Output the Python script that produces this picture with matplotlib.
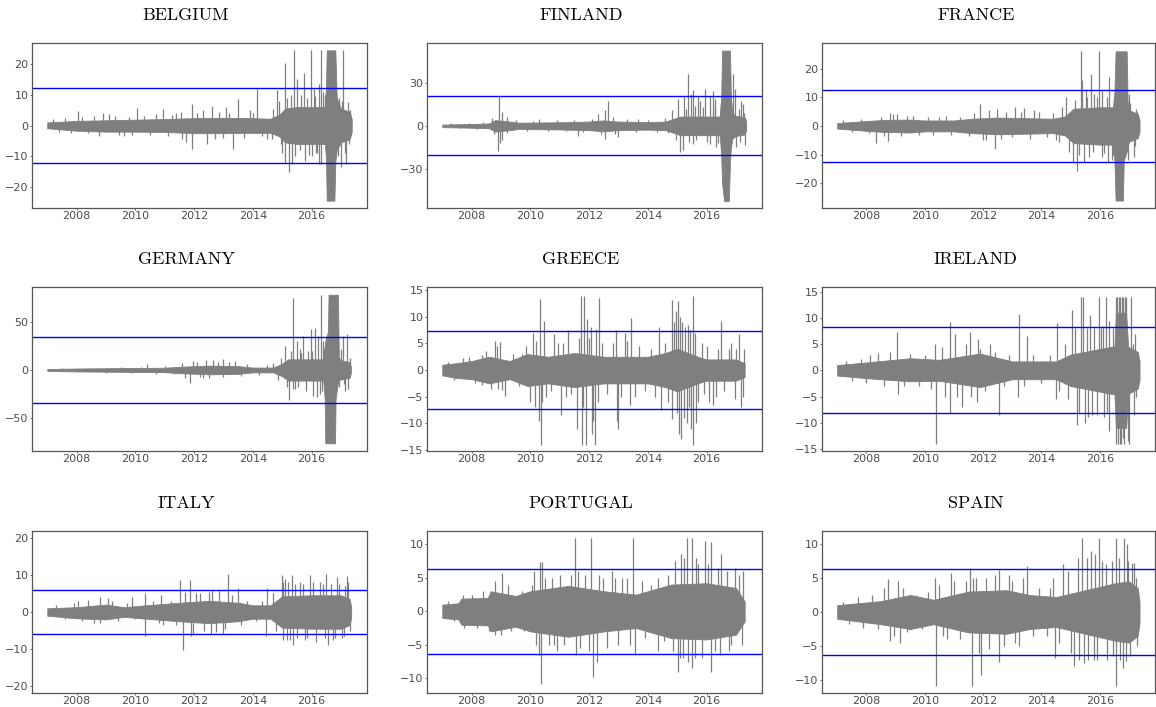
import matplotlib
matplotlib.use("Agg")
import matplotlib.pyplot as plt

# ---------------- data ----------------
# Each panel: core envelope (time, upper, lower), large spikes (time, value),
# smaller excursions (time, value), threshold level (blue lines at +/-).

BE_T  = [2007.0, 2008.0, 2009.0, 2010.0, 2011.0, 2012.0, 2013.0, 2014.0, 2014.6, 2014.9, 2015.1, 2015.5, 2016.0, 2016.45, 2016.49, 2016.52, 2016.78, 2016.81, 2016.86, 2017.0, 2017.3, 2017.37]
BE_HI = [1.0, 1.5, 1.7, 1.9, 2.1, 2.4, 2.5, 2.4, 2.2, 3.5, 5.5, 6.0, 6.0, 6.0, 12.0, 24.5, 24.5, 24.5, 9.0, 5.5, 4.5, 2.0]
BE_LO = [-0.9, -1.7, -2.0, -2.0, -2.1, -2.5, -2.5, -2.4, -2.4, -3.5, -5.5, -6.0, -6.0, -6.0, -10.0, -24.5, -24.5, -12.0, -8.0, -5.5, -4.5, -2.0]
BE_ST = [2008.05, 2008.9, 2009.1, 2009.6, 2010.07, 2010.94, 2011.4, 2011.73, 2011.92, 2011.94, 2012.45, 2012.6, 2013.1, 2013.31, 2013.5, 2013.9, 2014.16, 2014.5, 2014.84, 2014.95, 2015.09, 2015.09, 2015.24, 2015.3, 2015.35, 2015.39, 2015.52, 2015.6, 2015.73, 2015.77, 2015.85, 2015.98, 2016.03, 2016.09, 2016.15, 2016.26, 2016.26, 2016.33, 2016.34, 2016.4, 2016.95, 2017.0, 2017.08, 2017.17, 2017.23]
BE_SV = [4.8, 4.0, 3.8, -3.5, 5.8, 5.5, 4.0, -5.5, 7.0, -7.5, -6.0, 6.5, 6.0, -7.5, 8.5, 5.0, 11.8, -4.5, 11.5, -6.0, 20.5, -12.3, -15.0, 10.0, -12.5, 24.5, 15.0, -8.0, 17.0, -11.5, 9.0, 24.5, -10.0, 12.0, -9.0, 13.5, -12.5, 24.5, -12.5, 11.0, 9.0, -13.5, 24.5, -12.5, 7.5]
BE_MT = [2007.2, 2007.4, 2007.6, 2007.8, 2008.2, 2008.4, 2008.6, 2008.75, 2009.3, 2009.45, 2009.8, 2009.9, 2010.3, 2010.5, 2010.7, 2011.1, 2011.25, 2011.55, 2011.6, 2012.1, 2012.3, 2012.7, 2012.85, 2013.0, 2013.2, 2013.7, 2014.0, 2014.3, 2014.65, 2014.7, 2014.9, 2015.0, 2015.15, 2015.45, 2015.65, 2015.9, 2016.12, 2016.2, 2016.45, 2016.9, 2017.05, 2017.13, 2017.28, 2017.3]
BE_MV = [2.2, -2.0, 2.5, -2.5, 2.8, -2.6, 3.0, -3.5, 3.2, -3.0, 2.8, -3.2, 3.0, -3.0, 3.8, -3.5, 3.5, 4.5, -4.5, 4.0, 5.0, -4.5, 4.5, -4.0, 4.2, -4.0, 4.0, -3.5, -4.5, 5.5, 8.0, -9.0, 9.0, -10.0, 10.0, -9.5, 9.5, -9.0, 10.0, -10.0, 8.0, -9.0, -6.0, 5.0]
BE_LIM = 12.2

FI_T  = [2007.0, 2008.0, 2008.6, 2008.8, 2009.3, 2009.6, 2011.0, 2012.0, 2012.5, 2013.0, 2014.0, 2014.6, 2014.9, 2015.1, 2016.0, 2016.45, 2016.5, 2016.53, 2016.6, 2016.76, 2016.8, 2016.83, 2016.88, 2017.0, 2017.3, 2017.35]
FI_HI = [0.9, 1.3, 1.7, 4.0, 3.0, 2.2, 2.5, 3.0, 3.8, 3.0, 2.6, 3.0, 5.0, 6.5, 6.5, 6.5, 20.0, 52.5, 52.5, 52.5, 52.5, 20.0, 9.0, 7.0, 6.0, 3.0]
FI_LO = [-0.9, -1.3, -1.7, -4.0, -3.0, -2.2, -2.5, -3.0, -3.8, -3.0, -2.6, -3.0, -5.0, -6.5, -6.5, -6.5, -20.0, -40.0, -52.5, -52.5, -25.0, -15.0, -9.0, -7.0, -6.0, -3.0]
FI_ST = [2008.89, 2008.94, 2008.97, 2009.03, 2009.03, 2010.28, 2011.64, 2012.32, 2012.55, 2012.55, 2012.66, 2013.0, 2013.68, 2014.81, 2015.02, 2015.1, 2015.19, 2015.24, 2015.36, 2015.47, 2015.55, 2015.55, 2015.7, 2015.78, 2015.95, 2016.12, 2016.12, 2016.23, 2016.29, 2016.34, 2016.91, 2016.97, 2017.02, 2017.19, 2017.25, 2017.31]
FI_SV = [-17.6, 20.5, -12.0, 10.0, -10.0, 4.5, -7.0, 8.0, 11.0, -9.0, 17.0, -8.0, 5.0, 11.0, 19.0, -18.5, -17.0, 21.0, 36.5, 22.0, 25.0, -13.0, 21.0, 17.0, 26.0, 21.0, -13.0, 24.0, 19.0, -15.0, 36.0, 26.0, -15.0, 17.5, 15.0, -13.5]
FI_MT = [2007.3, 2007.6, 2007.9, 2008.2, 2008.4, 2008.7, 2008.75, 2009.2, 2009.22, 2009.5, 2009.9, 2010.1, 2010.6, 2010.9, 2011.2, 2011.5, 2011.8, 2012.1, 2012.4, 2012.8, 2012.9, 2013.3, 2013.6, 2014.0, 2014.3, 2014.6, 2014.7, 2014.95, 2015.3, 2015.4, 2015.6, 2015.65, 2015.88, 2016.0, 2016.3, 2016.4, 2016.48, 2017.1, 2017.15, 2017.28]
FI_MV = [1.8, -1.8, 2.2, -2.0, 2.5, 5.5, -6.0, 6.0, -5.0, 4.0, -3.5, 3.5, -3.5, 3.8, -3.8, 4.0, -4.5, 5.0, -5.5, 6.0, -6.0, 5.0, -4.5, 4.0, -4.0, 5.5, -5.0, -10.0, 12.0, -11.0, 14.0, -10.0, 13.0, -11.0, 14.0, -12.0, 15.0, 12.0, -11.0, 9.0]
FI_LIM = 20.5

FR_T  = [2007.0, 2008.0, 2008.6, 2009.5, 2010.0, 2011.0, 2011.6, 2012.5, 2013.5, 2014.4, 2014.8, 2015.1, 2016.0, 2016.45, 2016.5, 2016.54, 2016.79, 2016.82, 2016.92, 2016.95, 2017.0, 2017.3, 2017.36]
FR_HI = [1.0, 1.7, 2.1, 2.2, 1.9, 1.9, 2.5, 2.9, 2.7, 2.5, 3.3, 6.0, 6.5, 6.5, 12.0, 26.0, 26.0, 26.0, 26.0, 9.0, 5.5, 4.2, 2.0]
FR_LO = [-0.9, -1.7, -2.1, -2.3, -1.9, -1.9, -2.5, -2.9, -2.7, -2.5, -3.3, -6.0, -6.5, -6.5, -12.0, -26.0, -26.0, -12.0, -9.0, -7.0, -5.5, -4.2, -2.0]
FR_ST = [2008.33, 2008.75, 2008.8, 2009.04, 2009.6, 2010.74, 2011.88, 2011.98, 2012.42, 2012.48, 2013.1, 2013.41, 2013.75, 2014.49, 2014.83, 2015.09, 2015.23, 2015.37, 2015.4, 2015.46, 2015.51, 2015.63, 2015.71, 2015.8, 2015.97, 2016.08, 2016.08, 2016.28, 2016.31, 2016.42, 2016.97, 2016.99, 2017.16, 2017.28]
FR_SV = [-5.8, -5.2, 4.5, 4.2, 3.5, 3.5, 7.5, -5.0, -8.0, 6.0, 6.5, 6.3, 5.5, -5.0, 10.0, -12.5, -15.8, 26.0, 16.0, -12.5, 13.0, -11.0, 18.0, 11.0, 26.0, 12.0, -11.0, -13.0, 17.0, -12.0, -12.0, 11.0, -11.0, 5.0]
FR_MT = [2007.2, 2007.5, 2007.8, 2008.1, 2008.5, 2008.6, 2008.9, 2009.2, 2009.4, 2009.8, 2010.1, 2010.3, 2010.5, 2010.9, 2011.2, 2011.5, 2011.7, 2012.1, 2012.2, 2012.6, 2012.8, 2013.0, 2013.3, 2013.6, 2013.9, 2014.2, 2014.4, 2014.6, 2014.7, 2014.95, 2015.15, 2015.3, 2015.55, 2015.75, 2015.9, 2016.15, 2016.25, 2016.45, 2016.88, 2017.05, 2017.2, 2017.25]
FR_MV = [2.0, -2.0, 2.5, -2.5, 3.0, -3.5, 4.0, -3.5, 3.5, -3.0, 3.0, -3.0, 3.2, -3.0, 3.0, -3.5, 4.5, -5.0, 5.5, -4.5, 5.0, -4.0, 5.0, -4.5, 5.0, -4.0, 4.5, -5.5, 6.5, -9.0, 9.0, -10.0, 10.0, -9.0, 10.0, -9.5, 10.0, -10.0, -9.0, 8.0, -7.0, 6.0]
FR_LIM = 12.4

DE_T  = [2007.0, 2008.0, 2009.0, 2010.0, 2011.0, 2011.5, 2012.5, 2013.5, 2014.0, 2014.7, 2015.0, 2015.2, 2016.0, 2016.4, 2016.45, 2016.47, 2016.56, 2016.58, 2016.8, 2016.82, 2016.9, 2016.93, 2017.0, 2017.3, 2017.34]
DE_HI = [1.0, 1.5, 1.8, 2.1, 2.3, 3.3, 4.5, 4.0, 2.5, 2.5, 6.5, 11.0, 11.0, 11.0, 25.0, 30.0, 40.0, 78.0, 78.0, 78.0, 78.0, 13.0, 10.0, 8.0, 3.0]
DE_LO = [-1.0, -1.5, -1.8, -2.1, -2.3, -3.3, -4.5, -4.0, -2.5, -2.5, -6.5, -11.0, -11.0, -11.0, -30.0, -76.0, -76.0, -76.0, -76.0, -30.0, -13.0, -10.0, -10.0, -8.0, -3.0]
DE_ST = [2010.38, 2011.86, 2011.97, 2012.31, 2012.42, 2012.65, 2012.99, 2013.39, 2014.7, 2015.09, 2015.24, 2015.36, 2015.38, 2015.51, 2015.61, 2015.72, 2015.89, 2015.97, 2016.06, 2016.12, 2016.17, 2016.23, 2016.29, 2016.32, 2016.38, 2017.08, 2017.14, 2017.2, 2017.25]
DE_SV = [6.0, -14.0, 9.0, -8.0, 10.0, 10.0, 11.0, 9.0, 7.0, 25.0, -31.0, 75.0, -20.0, 30.0, 22.0, 35.0, 20.0, 42.0, -27.0, 44.0, -28.0, 35.0, -25.0, 78.0, 30.0, 35.0, -22.0, 37.0, -20.0]
DE_MT = [2007.5, 2008.0, 2008.5, 2009.0, 2009.5, 2009.9, 2010.2, 2010.7, 2011.0, 2011.3, 2011.6, 2011.7, 2012.1, 2012.2, 2012.5, 2012.8, 2013.0, 2013.2, 2013.6, 2013.8, 2014.2, 2014.5, 2014.85, 2014.95, 2015.15, 2015.3, 2015.45, 2015.55, 2015.65, 2015.8, 2016.0, 2016.35, 2016.42, 2016.95, 2017.0, 2017.1, 2017.3]
DE_MV = [2.0, -2.5, 2.5, -3.0, 3.5, -3.5, 3.5, -4.0, 4.5, -4.5, 7.0, -8.0, 8.0, -7.0, -8.0, 8.0, -7.0, 8.0, -6.0, 6.0, -5.0, 5.0, -10.0, 12.0, -18.0, 20.0, -20.0, -18.0, 18.0, -22.0, 20.0, -22.0, 22.0, -18.0, 22.0, -15.0, 12.0]
DE_LIM = 34.5

GR_T  = [2007.0, 2007.5, 2008.0, 2008.6, 2009.3, 2009.9, 2010.6, 2011.5, 2012.5, 2013.0, 2014.0, 2014.6, 2015.0, 2015.7, 2016.0, 2017.0, 2017.3]
GR_HI = [1.0, 1.3, 1.7, 2.5, 1.7, 3.0, 2.5, 3.2, 2.5, 2.5, 2.5, 3.2, 4.0, 2.5, 2.0, 2.0, 1.3]
GR_LO = [-1.0, -1.5, -1.7, -2.5, -1.7, -3.0, -2.5, -3.2, -2.5, -2.5, -2.5, -3.2, -4.0, -2.5, -2.0, -2.0, -1.3]
GR_ST = [2007.9, 2008.35, 2008.35, 2008.8, 2008.97, 2008.9, 2009.14, 2009.71, 2010.0, 2010.09, 2010.16, 2010.3, 2010.33, 2010.36, 2010.45, 2010.79, 2011.04, 2011.28, 2011.58, 2011.72, 2011.75, 2011.84, 2011.89, 2011.92, 2012.07, 2012.09, 2012.15, 2012.21, 2012.23, 2012.35, 2012.92, 2012.94, 2012.98, 2013.23, 2013.4, 2013.43, 2014.38, 2014.45, 2014.81, 2014.84, 2014.95, 2015.02, 2015.06, 2015.1, 2015.12, 2015.27, 2015.32, 2015.36, 2015.44, 2015.47, 2015.53, 2015.55, 2015.64, 2015.83, 2016.09, 2016.23, 2016.34, 2016.51, 2016.85, 2016.97, 2017.1, 2017.17]
GR_SV = [2.5, 2.8, -2.8, 5.5, 5.3, -3.5, -4.8, 3.0, -6.0, 7.0, -7.0, -9.5, 13.3, -14.0, 9.2, 6.7, -8.5, 7.5, -11.0, 14.0, -14.0, 14.0, -14.0, 9.5, 8.0, -12.0, -9.5, -14.0, 7.7, 13.5, 7.5, -9.5, -11.0, 7.0, -6.5, 9.8, 8.0, -7.5, 13.2, -9.2, 11.0, 13.0, -12.0, 10.0, -13.0, 8.0, -10.0, 8.5, 7.5, -11.0, 14.0, -14.0, -10.0, 5.0, -6.0, -6.5, -5.0, 9.2, 5.0, -5.5, 6.8, -7.0]
GR_MT = [2007.2, 2007.4, 2007.7, 2008.1, 2008.5, 2008.65, 2008.85, 2009.05, 2009.4, 2009.6, 2009.85, 2010.2, 2010.4, 2010.55, 2010.7, 2010.95, 2011.1, 2011.2, 2011.4, 2011.65, 2011.8, 2012.0, 2012.3, 2012.45, 2012.6, 2012.8, 2013.1, 2013.3, 2013.55, 2013.7, 2013.9, 2014.1, 2014.25, 2014.6, 2014.7, 2014.9, 2015.0, 2015.18, 2015.25, 2015.4, 2015.6, 2015.7, 2015.9, 2016.0, 2016.4, 2016.6, 2016.75, 2017.0, 2017.25, 2017.28]
GR_MV = [1.5, -1.8, 2.2, -2.5, 3.5, -3.5, 4.5, -3.8, 3.0, -3.0, 4.5, 5.5, -6.0, -5.0, -4.0, 5.0, 5.0, -5.0, -4.5, 6.0, -7.0, 6.0, -6.0, 5.0, -4.5, 5.0, -5.0, 5.5, -5.0, 4.5, -4.0, 4.0, -5.0, 5.0, -6.0, 9.0, -8.0, 9.0, -9.0, -7.0, 7.0, -6.0, -4.5, 4.5, 4.0, -4.0, 4.0, 4.0, -5.0, 4.0]
GR_LIM = 7.25

IE_T  = [2007.0, 2008.0, 2009.5, 2010.5, 2011.9, 2013.0, 2014.5, 2015.0, 2016.4, 2016.5, 2016.55, 2016.9, 2016.97, 2017.3, 2017.36]
IE_HI = [1.0, 1.5, 2.3, 2.0, 3.2, 1.7, 1.7, 3.0, 4.5, 4.5, 11.0, 11.0, 4.5, 3.5, 1.8]
IE_LO = [-1.0, -1.5, -2.1, -2.0, -3.2, -1.7, -1.7, -3.0, -4.5, -4.5, -11.0, -11.0, -4.5, -3.5, -1.8]
IE_ST = [2008.13, 2009.06, 2009.09, 2010.34, 2010.37, 2010.88, 2010.88, 2011.03, 2011.28, 2011.54, 2011.79, 2011.82, 2012.22, 2012.53, 2013.19, 2013.22, 2013.49, 2014.49, 2014.52, 2015.06, 2015.23, 2015.37, 2015.44, 2015.49, 2015.65, 2015.74, 2015.97, 2016.11, 2016.14, 2016.22, 2016.31, 2016.31, 2016.55, 2016.56, 2016.6, 2016.62, 2016.65, 2016.68, 2016.7, 2016.73, 2016.75, 2016.78, 2016.8, 2016.84, 2016.85, 2016.9, 2016.95, 2017.0, 2017.08, 2017.16, 2017.22]
IE_SV = [3.0, 7.3, -4.5, 5.0, -14.0, 9.2, -8.2, 7.0, -7.0, 7.3, -6.0, 6.0, 5.0, -8.5, -5.0, 10.8, 6.5, -5.5, 9.0, 11.5, -10.5, 14.0, 14.0, -10.0, 10.5, -8.5, 14.0, 8.5, -9.0, 14.0, 9.5, -11.5, 14.0, -14.0, 14.0, -14.0, 14.0, -14.0, 14.0, -14.0, 14.0, -13.0, 14.0, -14.0, 14.0, 14.0, -13.5, -14.0, 14.0, -8.5, 7.0]
IE_MT = [2007.3, 2007.5, 2007.8, 2008.0, 2008.4, 2008.6, 2008.8, 2009.3, 2009.5, 2009.8, 2010.0, 2010.2, 2010.6, 2010.7, 2011.1, 2011.4, 2011.6, 2011.9, 2012.05, 2012.4, 2012.7, 2012.9, 2013.4, 2013.7, 2014.0, 2014.3, 2014.6, 2014.8, 2014.9, 2015.15, 2015.3, 2015.55, 2015.6, 2015.8, 2015.9, 2016.05, 2016.25, 2016.45, 2017.12, 2017.25]
IE_MV = [1.8, -2.0, 2.2, -2.5, 3.3, -3.0, 3.5, -3.0, 3.2, -3.0, 3.0, -3.5, 4.5, -5.0, -5.0, 5.0, -5.0, 4.0, -4.0, 3.5, -3.0, 3.0, -3.0, 3.0, -2.5, 3.0, -4.0, 5.0, -5.5, 8.0, -8.0, 8.0, -9.0, 8.0, -8.5, 8.0, -8.0, 8.0, 5.0, -5.0]
IE_LIM = 8.2

IT_T  = [2007.0, 2008.0, 2009.0, 2009.6, 2010.2, 2011.5, 2012.5, 2013.5, 2014.0, 2014.6, 2015.0, 2016.0, 2017.0, 2017.3, 2017.35]
IT_HI = [1.0, 1.3, 2.0, 1.3, 1.7, 2.5, 3.0, 2.5, 1.8, 1.8, 4.2, 4.5, 4.5, 3.5, 1.5]
IT_LO = [-1.0, -1.7, -2.0, -1.3, -1.7, -2.5, -3.0, -2.5, -1.8, -1.8, -4.2, -4.5, -4.5, -3.5, -1.5]
IT_ST = [2008.05, 2008.79, 2008.8, 2009.07, 2009.87, 2010.34, 2010.34, 2010.89, 2010.95, 2011.53, 2011.61, 2011.86, 2011.88, 2012.08, 2012.56, 2012.62, 2012.97, 2013.17, 2013.48, 2014.45, 2014.5, 2015.0, 2015.04, 2015.04, 2015.15, 2015.26, 2015.32, 2015.38, 2015.61, 2015.78, 2015.95, 2016.29, 2016.51, 2016.55, 2016.74, 2016.86, 2017.03, 2017.22, 2017.25]
IT_SV = [3.0, 4.0, -3.0, 3.8, 4.0, 5.2, -6.5, 4.5, -3.5, 8.5, -10.2, 8.5, -6.5, 5.0, -6.0, 5.8, -6.0, 10.2, 6.5, -6.5, 6.5, 10.0, 8.0, -7.5, -7.5, -7.5, 10.0, -9.0, 8.0, -7.5, 10.0, 8.0, 10.2, -9.0, -7.5, 9.5, -7.0, 9.8, 8.0]
IT_MT = [2007.3, 2007.6, 2007.9, 2008.2, 2008.4, 2008.6, 2009.2, 2009.4, 2009.7, 2010.0, 2010.6, 2010.8, 2011.2, 2011.4, 2011.7, 2011.95, 2012.2, 2012.35, 2012.5, 2012.75, 2012.85, 2013.05, 2013.3, 2013.6, 2013.8, 2014.1, 2014.3, 2014.7, 2014.8, 2015.1, 2015.2, 2015.45, 2015.5, 2015.7, 2015.85, 2016.05, 2016.15, 2016.4, 2016.45, 2016.65, 2016.8, 2016.95, 2017.1, 2017.15, 2017.3]
IT_MV = [1.8, -2.0, 2.5, -2.5, 3.2, -3.0, 3.0, -2.5, 2.5, -2.0, 3.0, -3.0, 3.0, -3.5, 5.5, -6.0, 5.0, -5.0, 5.5, -5.5, 6.0, -4.5, 4.5, -3.5, 3.0, -2.5, 3.0, 5.0, -5.0, 9.0, 8.0, 7.5, -7.0, 7.5, -7.0, 8.0, -8.0, 7.5, -7.0, 7.5, -7.0, 7.5, -6.5, 7.0, -5.0]
IT_LIM = 6.0

PT_T  = [2007.0, 2007.55, 2007.65, 2008.55, 2008.65, 2009.5, 2010.0, 2011.3, 2012.5, 2013.6, 2014.8, 2016.0, 2017.0, 2017.3]
PT_HI = [1.0, 1.2, 1.9, 2.0, 3.0, 2.3, 3.0, 3.8, 3.0, 2.5, 4.0, 4.2, 3.5, 1.5]
PT_LO = [-1.0, -1.2, -2.0, -2.1, -3.0, -2.3, -3.0, -3.8, -3.0, -2.5, -4.0, -4.2, -3.5, -1.5]
PT_ST = [2008.8, 2008.8, 2009.05, 2010.11, 2010.31, 2010.33, 2010.36, 2010.39, 2010.62, 2010.73, 2010.9, 2011.53, 2011.56, 2011.64, 2012.07, 2012.12, 2012.26, 2012.49, 2012.77, 2013.11, 2013.51, 2013.57, 2014.36, 2014.36, 2014.93, 2015.02, 2015.13, 2015.21, 2015.35, 2015.38, 2015.49, 2015.49, 2015.72, 2015.95, 2016.15, 2016.15, 2016.29, 2016.51, 2016.85, 2016.97, 2017.25]
PT_SV = [4.5, -3.5, 5.8, 6.0, -6.5, 7.3, -10.8, 7.3, -5.0, 5.0, -6.0, 11.0, -6.5, 6.0, 11.0, -9.8, -7.5, 5.0, 6.0, 5.0, 11.0, -6.5, 5.0, -6.0, 7.5, -9.0, 8.5, -7.0, 11.0, -7.5, 11.0, -8.5, 7.0, 10.5, 10.3, -9.0, -6.0, 8.5, -5.0, 6.5, 6.0]
PT_MT = [2007.2, 2007.4, 2007.7, 2007.75, 2008.0, 2008.2, 2008.4, 2008.6, 2009.0, 2009.25, 2009.35, 2009.7, 2009.8, 2010.05, 2010.2, 2010.5, 2010.8, 2011.0, 2011.15, 2011.4, 2011.7, 2011.85, 2012.0, 2012.35, 2012.6, 2012.9, 2013.0, 2013.3, 2013.4, 2013.8, 2013.9, 2014.1, 2014.55, 2014.7, 2014.85, 2015.1, 2015.25, 2015.6, 2015.65, 2015.85, 2016.05, 2016.4, 2016.45, 2016.7, 2016.75, 2017.1, 2017.2]
PT_MV = [1.5, -1.5, 2.5, -2.5, 2.5, -2.5, 3.0, -3.0, -3.5, 4.0, -3.0, 3.0, -3.0, 4.0, -5.0, 5.0, -5.0, 5.5, -5.0, 5.5, -5.5, 5.5, -6.0, 5.5, -5.5, 5.0, -5.0, 5.0, -5.0, 4.5, -4.0, 4.0, -4.5, 5.5, -6.0, -7.0, 8.0, -7.0, 8.0, -7.0, 7.0, 6.5, -6.5, 6.0, -6.0, 5.5, -5.0]
PT_LIM = 6.3

ES_T  = [2007.0, 2008.5, 2009.5, 2010.3, 2011.5, 2012.8, 2013.6, 2014.5, 2016.5, 2017.0, 2017.3, 2017.36]
ES_HI = [1.0, 1.6, 2.5, 1.8, 3.0, 3.2, 2.5, 2.2, 4.2, 4.5, 3.5, 1.5]
ES_LO = [-1.0, -1.8, -2.5, -1.8, -3.0, -3.2, -2.5, -2.2, -4.2, -4.5, -3.5, -1.5]
ES_ST = [2008.75, 2008.81, 2009.09, 2009.15, 2010.34, 2010.37, 2010.63, 2010.91, 2011.54, 2011.62, 2011.67, 2011.93, 2012.53, 2012.56, 2012.9, 2013.24, 2013.5, 2014.4, 2014.47, 2014.75, 2015.12, 2015.38, 2015.46, 2015.69, 2015.8, 2015.97, 2016.08, 2016.54, 2016.54, 2016.79, 2016.82, 2016.88, 2016.93, 2017.1, 2017.18]
ES_SV = [4.8, -4.2, 4.5, -4.5, 5.0, -10.8, -3.5, 5.8, 6.5, -10.8, 5.0, -9.2, -7.3, 6.2, 5.5, -5.0, 6.8, 5.0, -6.8, 7.0, -8.0, 10.8, -7.5, 9.0, -7.0, 10.8, 7.5, 10.8, -10.8, -8.3, 10.8, -7.2, 10.0, 7.2, 7.2]
ES_MT = [2007.2, 2007.4, 2007.7, 2007.9, 2008.2, 2008.4, 2008.6, 2008.95, 2009.25, 2009.4, 2009.7, 2009.9, 2010.1, 2010.5, 2010.75, 2011.0, 2011.2, 2011.4, 2011.75, 2011.85, 2012.1, 2012.2, 2012.4, 2012.7, 2013.0, 2013.1, 2013.35, 2013.7, 2013.9, 2014.2, 2014.3, 2014.6, 2014.9, 2015.0, 2015.25, 2015.3, 2015.55, 2015.6, 2015.85, 2015.9, 2016.2, 2016.25, 2016.4, 2016.45, 2016.65, 2016.7, 2016.98, 2017.05, 2017.25, 2017.28]
ES_MV = [1.5, -1.8, 2.2, -2.3, 2.5, -2.5, 3.5, -3.5, 3.5, -3.0, 2.5, -2.5, 3.0, 4.0, -4.0, 4.5, -4.0, 4.5, 5.0, -6.0, 5.0, -5.5, 5.5, -5.0, 4.5, -4.5, 5.0, -3.5, 3.5, -3.5, 3.5, -4.5, 6.0, -6.0, 8.0, -7.0, 8.0, -7.0, 8.5, -7.0, 7.0, -7.0, 7.5, -6.5, 8.0, -7.0, 7.5, -6.5, 5.0, -5.0]
ES_LIM = 6.3

TITLES = ["BELGIUM", "FINLAND", "FRANCE", "GERMANY", "GREECE", "IRELAND", "ITALY", "PORTUGAL", "SPAIN"]
X_TICKS = [2008, 2010, 2012, 2014, 2016]
X_LIM = (2006.48, 2017.89)
Y_TICKS = [[-20, -10, 0, 10, 20], [-30, 0, 30], [-20, -10, 0, 10, 20],
           [-50, 0, 50], [-15, -10, -5, 0, 5, 10, 15], [-15, -10, -5, 0, 5, 10, 15],
           [-20, -10, 0, 10, 20], [-10, -5, 0, 5, 10], [-10, -5, 0, 5, 10]]
Y_LIMS = [(-26.9, 26.9), (-57.3, 57.8), (-28.6, 28.9),
          (-84.0, 86.0), (-15.2, 15.6), (-15.4, 15.9),
          (-21.8, 21.8), (-12.2, 12.0), (-11.9, 11.9)]

PANELS = [
    (BE_T, BE_HI, BE_LO, BE_ST, BE_SV, BE_MT, BE_MV, BE_LIM),
    (FI_T, FI_HI, FI_LO, FI_ST, FI_SV, FI_MT, FI_MV, FI_LIM),
    (FR_T, FR_HI, FR_LO, FR_ST, FR_SV, FR_MT, FR_MV, FR_LIM),
    (DE_T, DE_HI, DE_LO, DE_ST, DE_SV, DE_MT, DE_MV, DE_LIM),
    (GR_T, GR_HI, GR_LO, GR_ST, GR_SV, GR_MT, GR_MV, GR_LIM),
    (IE_T, IE_HI, IE_LO, IE_ST, IE_SV, IE_MT, IE_MV, IE_LIM),
    (IT_T, IT_HI, IT_LO, IT_ST, IT_SV, IT_MT, IT_MV, IT_LIM),
    (PT_T, PT_HI, PT_LO, PT_ST, PT_SV, PT_MT, PT_MV, PT_LIM),
    (ES_T, ES_HI, ES_LO, ES_ST, ES_SV, ES_MT, ES_MV, ES_LIM),
]

# ---------------- layout (pixels) ----------------
W, H = 1156, 707
COL_L = [32, 427, 822]
COL_R = [367, 762, 1155]
ROW_T = [43, 287, 531]
ROW_B = [208, 451, 693]
TITLE_X = [186, 581, 976]
TITLE_Y = [15, 259, 503]

GRAY = "#7f7f7f"
BLUE = "#0000ff"

fig = plt.figure(figsize=(W / 100, H / 100), dpi=100)
fig.patch.set_facecolor("white")

for i, (t, hi, lo, st, sv, mt, mv, lim) in enumerate(PANELS):
    r, c = divmod(i, 3)
    l, rr = COL_L[c], COL_R[c]
    top, bot = ROW_T[r], ROW_B[r]
    ax = fig.add_axes([l / W, 1 - bot / H, (rr - l) / W, (bot - top) / H])
    ax.fill_between(t, lo, hi, color=GRAY, linewidth=0.6, edgecolor=GRAY)
    ax.vlines(mt, 0, mv, color=GRAY, linewidth=0.9)
    ax.vlines(st, 0, sv, color=GRAY, linewidth=0.9)
    ax.axhline(lim, color=BLUE, linewidth=1.0)
    ax.axhline(-lim, color=BLUE, linewidth=1.0)
    ax.set_xlim(*X_LIM)
    ax.set_ylim(*Y_LIMS[i])
    ax.set_xticks(X_TICKS)
    ax.set_xticklabels([str(x) for x in X_TICKS])
    ax.set_yticks(Y_TICKS[i])
    ax.set_yticklabels([("\u2212" + str(-v)) if v < 0 else str(v) for v in Y_TICKS[i]])
    ax.tick_params(axis="both", length=1.5, width=0.6, color="#555555",
                   labelcolor="#4d4d4d", labelsize=8, pad=1.0)
    for sp in ax.spines.values():
        sp.set_color("#555555")
        sp.set_linewidth(0.9)
    fig.text(TITLE_X[c] / W, 1 - TITLE_Y[r] / H, TITLES[i], ha="center", va="center",
             fontsize=13, family=["cmr10", "DejaVu Serif"])

fig.savefig("out.png", dpi=100)
